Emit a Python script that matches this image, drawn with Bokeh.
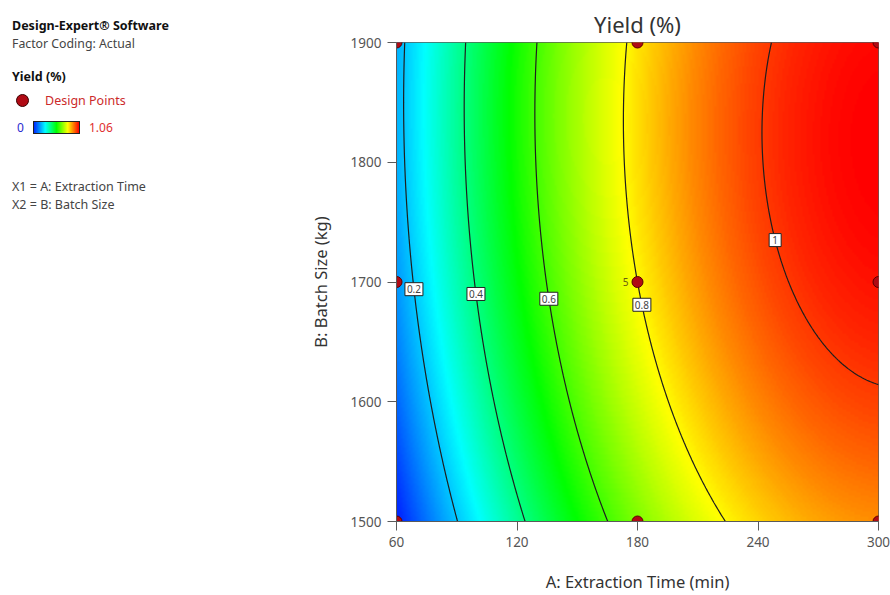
import numpy as np
from bokeh.plotting import figure
from bokeh.layouts import row
from bokeh.models import Range1d, FixedTicker, LinearColorMapper, Div
from bokeh.core.properties import value
from bokeh.embed import file_html
from bokeh.resources import INLINE

# ---------------- data ----------------
x_ticks = [60, 120, 180, 240, 300]
y_ticks = [1500, 1600, 1700, 1800, 1900]
design_A = [60, 60, 60, 180, 180, 180, 300, 300, 300]
design_B = [1500, 1700, 1900, 1500, 1700, 1900, 1500, 1700, 1900]
center_replicates = "5"
# quadratic response-surface model in coded units
b0 = 0.80
bA = 0.45
bB = 0.08
bAB = -0.01
bAA = -0.209
bBB = -0.06
contour_levels = [0.2, 0.4, 0.6, 0.8, 1.0]
contour_label_text = ["0.2", "0.4", "0.6", "0.8", "1"]
contour_label_B = [1694, 1690, 1686, 1681, 1735]
scale_low = 0.0
scale_high = 1.06
legend_title = "Yield (%)"

FONT = "Noto Sans"

def coded_a(A):
    return (np.asarray(A, float) - 180.0) / 120.0

def coded_b(B):
    return (np.asarray(B, float) - 1700.0) / 200.0

def model(A, B):
    a = coded_a(A); b = coded_b(B)
    return b0 + bA * a + bB * b + bAB * a * b + bAA * a * a + bBB * b * b

# colour palette: blue -> cyan -> green -> yellow -> red
stops = [0.0, 0.25, 0.5, 0.75, 1.0]
rs = [0, 0, 0, 255, 255]
gs = [40, 255, 255, 255, 0]
bs = [255, 255, 0, 0, 0]
stop_hex = ["#%02x%02x%02x" % c for c in zip(rs, gs, bs)]
t = np.linspace(0, 1, 256)
palette = ["#%02x%02x%02x" % (int(np.interp(v, stops, rs)), int(np.interp(v, stops, gs)), int(np.interp(v, stops, bs))) for v in t]
mapper = LinearColorMapper(palette=palette, low=scale_low, high=scale_high)

# ---------------- main plot ----------------
p = figure(width=600, height=595, output_backend="svg", toolbar_location=None,
           x_range=Range1d(60, 300), y_range=Range1d(1500, 1900),
           min_border_left=106, min_border_right=12, min_border_top=42, min_border_bottom=73,
           title="Yield (%)")
p.title.align = "center"
p.title.text_font = FONT
p.title.text_font_size = "22px"
p.title.text_font_style = "normal"
p.title.text_color = "#333333"
p.title.offset = 0
p.title.standoff = 7

gx = np.linspace(60, 300, 241)
gy = np.linspace(1500, 1900, 201)
GX, GY = np.meshgrid(gx, gy)
Z = model(GX, GY)
p.image(image=[Z], x=60, y=1500, dw=240, dh=400, color_mapper=mapper)
p.contour(x=gx, y=gy, z=Z, levels=contour_levels, line_color="#1e1e1e", line_width=1.2, fill_color=None)

# contour labels placed on their lines
lab_A = []
for lev, Bv in zip(contour_levels, contour_label_B):
    b = coded_b(Bv)
    pa = bAA
    pb = bA + bAB * b
    pc = b0 + bB * b + bBB * b * b - lev
    disc = np.sqrt(pb * pb - 4 * pa * pc)
    roots = [(-pb + disc) / (2 * pa), (-pb - disc) / (2 * pa)]
    a = [r for r in roots if -1.05 <= r <= 1.05][0]
    lab_A.append(180 + 120 * a)
box_w = [max(12, 6 * len(s)) for s in contour_label_text]
p.rect(x=lab_A, y=contour_label_B, width=box_w, height=13, width_units="screen", height_units="screen",
       fill_color="white", line_color="#222222", line_width=1)
p.text(x=lab_A, y=contour_label_B, text=contour_label_text, text_align="center", text_baseline="middle",
       text_font=value(FONT), text_font_size="10px", text_color="#444444")

p.scatter(design_A, design_B, size=11, fill_color="#b00a14", line_color="#5a0000", line_width=1)
p.text(x=[180], y=[1700], text=[center_replicates], x_offset=-9, text_align="right", text_baseline="middle",
       text_font=value(FONT), text_font_size="10px", text_color="#6b5a10")

p.grid.visible = False
p.outline_line_color = "#5a5a5a"
for ax, ticks, lbl in ((p.xaxis, x_ticks, "A: Extraction Time (min)"), (p.yaxis, y_ticks, "B: Batch Size (kg)")):
    ax.ticker = FixedTicker(ticks=ticks)
    ax.axis_label = lbl
    ax.axis_label_text_font = FONT
    ax.axis_label_text_font_size = "16.5px"
    ax.axis_label_text_font_style = "normal"
    ax.axis_label_text_color = "#333333"
    ax.major_label_text_font = FONT
    ax.major_label_text_font_size = "13.5px"
    ax.major_label_text_color = "#555555"
    ax.major_tick_in = 0
    ax.major_tick_out = 9
    ax.minor_tick_out = 0
    ax.minor_tick_in = 0
    ax.axis_line_color = "#5a5a5a"
    ax.major_tick_line_color = "#5a5a5a"
    ax.major_label_standoff = 6
p.xaxis.axis_label_standoff = 20
p.yaxis.axis_label_standoff = 16

# ---------------- legend panel (left side) ----------------
def line(top, left, text, size=12.3, color="#444444", weight="normal"):
    return ('<div style="position:absolute;left:%dpx;top:%dpx;white-space:nowrap;font-family:\'%s\';'
            'font-size:%.1fpx;line-height:14px;color:%s;font-weight:%s;">%s</div>'
            % (left, top, FONT, size, color, weight, text))

grad = "linear-gradient(to right, %s)" % ", ".join(stop_hex)
html = ('<div style="position:relative;width:290px;height:595px;">'
        + line(19, 12, "Design-Expert® Software", 12.5, "#111111", "bold")
        + line(37, 12, "Factor Coding: Actual")
        + line(70, 12, legend_title, 12.5, "#111111", "bold")
        + '<div style="position:absolute;left:16px;top:94px;width:13px;height:13px;box-sizing:border-box;'
          'border-radius:50%;background:#b00a14;border:1.5px solid #3a0000;"></div>'
        + line(94, 45, "Design Points", 12.5, "#cc2a2a")
        + line(121, 17, "%g" % scale_low, 12, "#2a2ad0")
        + '<div style="position:absolute;left:33px;top:121px;width:47px;height:13px;box-sizing:border-box;'
          'background:%s;border:1px solid #222222;"></div>' % grad
        + line(121, 89, "%.2f" % scale_high, 12, "#e03030")
        + line(180, 12, "X1 = A: Extraction Time", 12.5)
        + line(198, 12, "X2 = B: Batch Size", 12.5)
        + '</div>')
legend_div = Div(text=html, width=290, height=595, margin=0)

layout = row(legend_div, p, spacing=0)
open("out.html", "w").write(file_html(layout, INLINE))
